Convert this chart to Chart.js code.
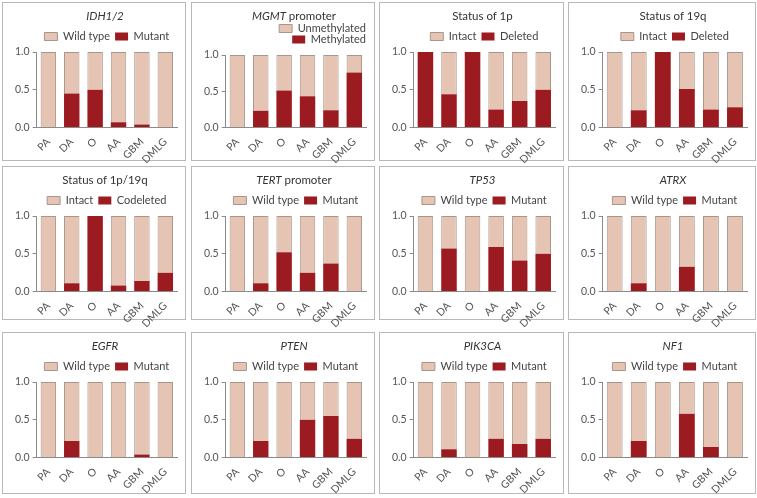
<!DOCTYPE html>
<html>
<head>
<meta charset="utf-8">
<script src="https://cdn.jsdelivr.net/npm/chart.js@4.4.0/dist/chart.umd.min.js"></script>
<style>
  body { margin: 0; width: 757px; height: 498px; background: #fff; position: relative; overflow: hidden; font-family: Lato, sans-serif; }
  .panel { position: absolute; border: 1px solid #b8b8b8; box-sizing: border-box; background: #fff; }
  .panel .ttl { position: absolute; top: 6px; left: 22px; right: 0; text-align: center; font-size: 11.5px; color: #333; white-space: nowrap; }
  .panel canvas { position: absolute; left: 0; top: 0; }
</style>
</head>
<body>
<script>
// categories and y ticks
const categories = ["PA", "DA", "O", "AA", "GBM", "DMLG"];
const yTicks = [0, 0.5, 1.0];

// fractions per tumour type (dark = altered, light = not altered)
const idhMutant = [0, 0.45, 0.50, 0.07, 0.04, 0];
const idhWild = [1, 0.55, 0.50, 0.93, 0.96, 1];
const mgmtMethylated = [0, 0.23, 0.51, 0.43, 0.24, 0.76];
const mgmtUnmethylated = [1, 0.77, 0.49, 0.57, 0.76, 0.24];
const p1Deleted = [1, 0.44, 1, 0.24, 0.35, 0.50];
const p1Intact = [0, 0.56, 0, 0.76, 0.65, 0.50];
const q19Deleted = [0, 0.23, 1, 0.51, 0.24, 0.27];
const q19Intact = [1, 0.77, 0, 0.49, 0.76, 0.73];
const codelCodeleted = [0, 0.11, 1, 0.08, 0.14, 0.25];
const codelIntact = [1, 0.89, 0, 0.92, 0.86, 0.75];
const tertMutant = [0, 0.11, 0.52, 0.25, 0.37, 0];
const tertWild = [1, 0.89, 0.48, 0.75, 0.63, 1];
const tp53Mutant = [0, 0.57, 0, 0.59, 0.41, 0.50];
const tp53Wild = [1, 0.43, 1, 0.41, 0.59, 0.50];
const atrxMutant = [0, 0.11, 0, 0.33, 0, 0];
const atrxWild = [1, 0.89, 1, 0.67, 1, 1];
const egfrMutant = [0, 0.22, 0, 0, 0.04, 0];
const egfrWild = [1, 0.78, 1, 1, 0.96, 1];
const ptenMutant = [0, 0.22, 0, 0.50, 0.55, 0.25];
const ptenWild = [1, 0.78, 1, 0.50, 0.45, 0.75];
const pik3caMutant = [0, 0.11, 0, 0.25, 0.18, 0.25];
const pik3caWild = [1, 0.89, 1, 0.75, 0.82, 0.75];
const nf1Mutant = [0, 0.22, 0, 0.58, 0.14, 0];
const nf1Wild = [1, 0.78, 1, 0.42, 0.86, 1];

const panels = [
  { title: "<i>IDH1/2</i>", light: "Wild type", dark: "Mutant", lightVals: idhWild, darkVals: idhMutant },
  { title: "<i>MGMT</i> promoter", light: "Unmethylated", dark: "Methylated", lightVals: mgmtUnmethylated, darkVals: mgmtMethylated, wrap: true },
  { title: "Status of 1p", light: "Intact", dark: "Deleted", lightVals: p1Intact, darkVals: p1Deleted },
  { title: "Status of 19q", light: "Intact", dark: "Deleted", lightVals: q19Intact, darkVals: q19Deleted },
  { title: "Status of 1p/19q", light: "Intact", dark: "Codeleted", lightVals: codelIntact, darkVals: codelCodeleted },
  { title: "<i>TERT</i> promoter", light: "Wild type", dark: "Mutant", lightVals: tertWild, darkVals: tertMutant },
  { title: "<i>TP53</i>", light: "Wild type", dark: "Mutant", lightVals: tp53Wild, darkVals: tp53Mutant },
  { title: "<i>ATRX</i>", light: "Wild type", dark: "Mutant", lightVals: atrxWild, darkVals: atrxMutant },
  { title: "<i>EGFR</i>", light: "Wild type", dark: "Mutant", lightVals: egfrWild, darkVals: egfrMutant },
  { title: "<i>PTEN</i>", light: "Wild type", dark: "Mutant", lightVals: ptenWild, darkVals: ptenMutant },
  { title: "<i>PIK3CA</i>", light: "Wild type", dark: "Mutant", lightVals: pik3caWild, darkVals: pik3caMutant },
  { title: "<i>NF1</i>", light: "Wild type", dark: "Mutant", lightVals: nf1Wild, darkVals: nf1Mutant }
];

const wildColor = "#e5c4b4";
const mutantColor = "#9b1b21";
const edgeColor = "#a8968d";
const axisColor = "#8a8a8a";

const colLeft = [2, 191, 379, 568];
const colWidth = [184, 184, 185, 188];
const rowTop = [2, 166, 332];
const rowHeight = [159, 154, 162];

function createChart(canvas, p) {
  const font = { family: "Lato", size: 11 };
  return new Chart(canvas, {
    type: 'bar',
    data: {
      labels: categories,
      datasets: [{
        label: p.dark,
        data: p.darkVals,
        backgroundColor: mutantColor,
        borderWidth: 0,
        barPercentage: 0.66,
        categoryPercentage: 1
      }, {
        label: p.light,
        data: p.lightVals,
        backgroundColor: wildColor,
        borderColor: edgeColor,
        borderWidth: 1,
        barPercentage: 0.66,
        categoryPercentage: 1
      }]
    },
    options: {
      responsive: false,
      animation: false,
      layout: { padding: { top: p.wrap ? 20 : 23, left: 9, right: 8, bottom: 0 } },
      plugins: {
        tooltip: { enabled: false },
        legend: {
          position: 'top',
          fullSize: false,
          reverse: true,
          align: p.wrap ? 'end' : 'center',
          labels: { boxWidth: 13, boxHeight: 8, padding: p.wrap ? 0 : 5, color: "#444", font }
        }
      },
      scales: {
        x: {
          stacked: true,
          grid: { display: false },
          border: { color: axisColor },
          ticks: { minRotation: 45, maxRotation: 45, color: "#555", font: { family: "Lato", size: 10.5 }, padding: 0 }
        },
        y: {
          stacked: true,
          min: 0,
          max: 1,
          border: { color: axisColor },
          grid: { drawOnChartArea: false, tickLength: 4, color: axisColor },
          afterBuildTicks: axis => { axis.ticks = yTicks.map(v => ({ value: v })); },
          ticks: { callback: v => v.toFixed(1), color: "#555", font: { family: "Lato", size: 10.5 }, padding: 3 }
        }
      }
    }
  });
}

panels.forEach((p, i) => {
  const c = i % 4, r = Math.floor(i / 4);
  const div = document.createElement("div");
  div.className = "panel";
  div.style.left = colLeft[c] + "px";
  div.style.top = rowTop[r] + "px";
  div.style.width = colWidth[c] + "px";
  div.style.height = rowHeight[r] + "px";
  const ttl = document.createElement("div");
  ttl.className = "ttl";
  ttl.innerHTML = p.title;
  const canvas = document.createElement("canvas");
  canvas.width = colWidth[c] - 2;
  canvas.height = 163;
  div.appendChild(canvas);
  div.appendChild(ttl);
  document.body.appendChild(div);
  createChart(canvas, p);
});
</script>
</body>
</html>
